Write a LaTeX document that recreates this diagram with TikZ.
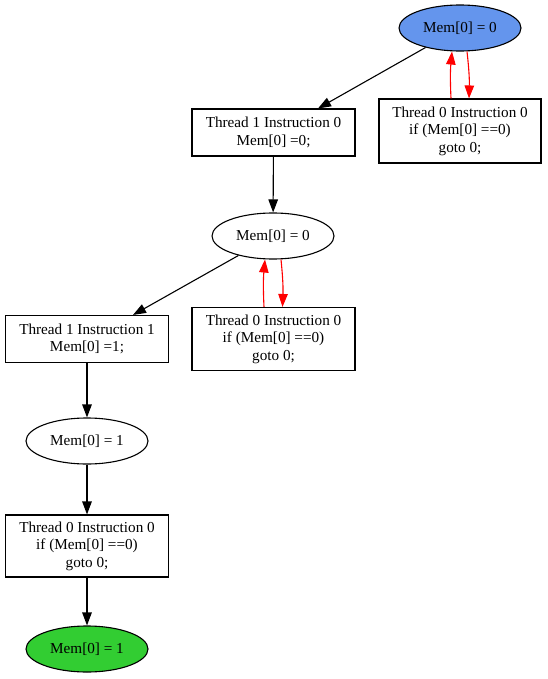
\documentclass[tikz,border=0pt]{standalone}
\usepackage{fontspec}
\setmainfont{Liberation Serif}
\usetikzlibrary{shapes.geometric,arrows.meta}
\definecolor{statblue}{HTML}{6495ED}
\definecolor{statgreen}{HTML}{32CD32}
\begin{document}
\begin{tikzpicture}[x=1pt,y=-1pt,
  every node/.style={font=\fontsize{15.2}{17.5}\selectfont, align=center, inner sep=0pt},
  state/.style={ellipse, draw, line width=1.1pt, minimum width=122pt, minimum height=46pt},
  instr/.style={rectangle, draw, line width=1.1pt, minimum width=163pt},
  flow/.style={line width=1.1pt, -{Triangle[length=13pt,width=9.5pt]}},
  spin/.style={flow, red}]
\useasboundingbox (0,0) rectangle (547,679);

% states and instructions
\node[state, fill=statblue] (s0) at (460,28) {Mem[0] = 0};
\node[instr, minimum height=47pt] (t1i0) at (273.5,132.5) {Thread 1 Instruction 0\\Mem[0] =0;};
\node[instr, minimum height=64pt, minimum width=162pt] (loopA) at (460,131) {Thread 0 Instruction 0\\if (Mem[0] ==0)\\goto 0;};
\node[state] (s1) at (273,236) {Mem[0] = 0};
\node[instr, minimum height=47pt] (t1i1) at (87,339) {Thread 1 Instruction 1\\Mem[0] =1;};
\node[instr, minimum height=63pt] (loopB) at (273.5,339) {Thread 0 Instruction 0\\if (Mem[0] ==0)\\goto 0;};
\node[state] (s2) at (87,441) {Mem[0] = 1};
\node[instr, minimum height=62pt] (t0i0) at (87,546) {Thread 0 Instruction 0\\if (Mem[0] ==0)\\goto 0;};
\node[state, fill=statgreen] (s3) at (87,649) {Mem[0] = 1};

% transitions
\draw[flow] (s0) -- (t1i0.north -| 318,0);
\draw[flow] (t1i0) -- (s1);
\draw[flow] (s1) -- (t1i1.north -| 133,0);
\draw[flow] (t1i1) -- (s2);
\draw[flow] (s2) -- (t0i0);
\draw[flow] (t0i0) -- (s3);

% self-looping spin instructions
\draw[spin] ([xshift=-9pt]loopA.north) to[bend left=4] ([xshift=-8pt]s0.south);
\draw[spin] ([xshift=7pt]s0.south) to[bend left=4] ([xshift=9pt]loopA.north);
\draw[spin] ([xshift=-9.5pt]loopB.north) to[bend left=4] ([xshift=-8pt]s1.south);
\draw[spin] ([xshift=8pt]s1.south) to[bend left=4] ([xshift=9pt]loopB.north);
\end{tikzpicture}
\end{document}
